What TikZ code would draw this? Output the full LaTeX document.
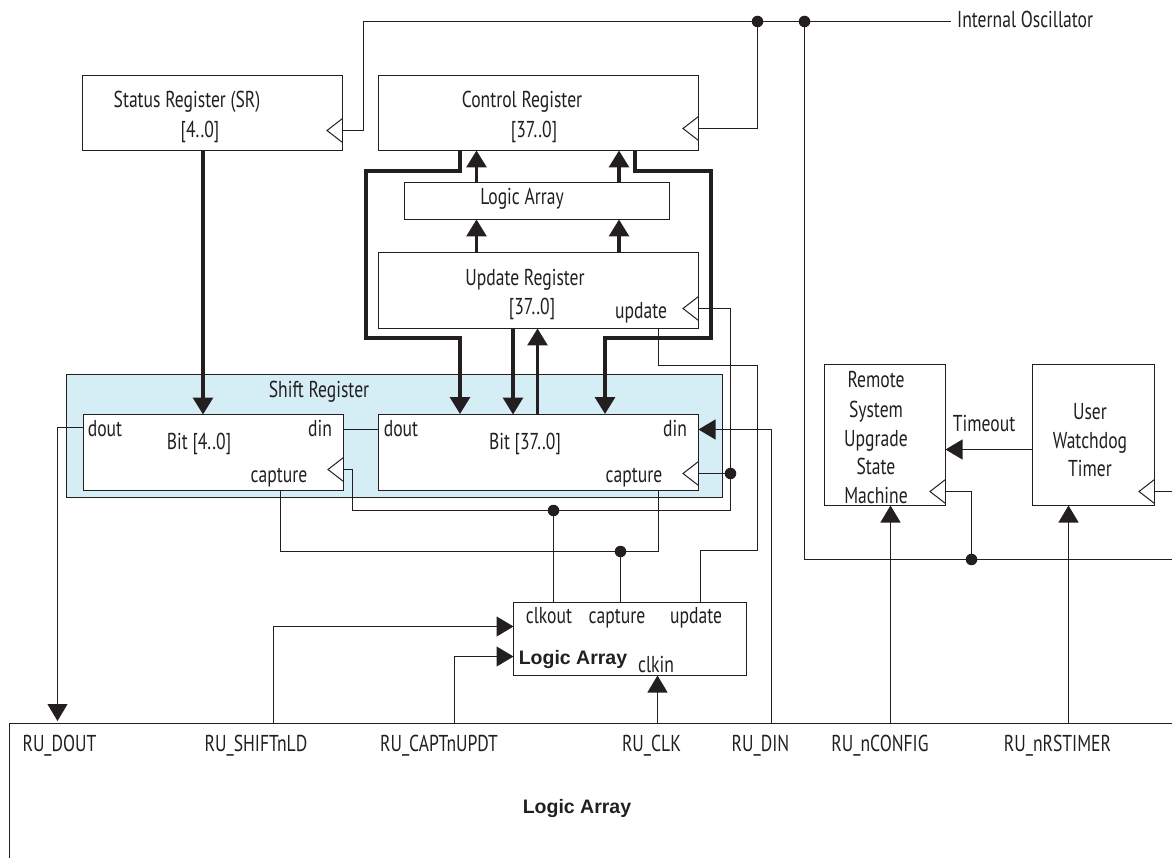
\documentclass[tikz,border=0pt]{standalone}
\usepackage{fontspec}
\usepackage{xcolor}
\usepackage{tikz}
\usetikzlibrary{arrows.meta}
\setmainfont[FakeStretch=0.765]{PT Sans}
\newfontfamily\arialbold{Liberation Sans}
\definecolor{inkcol}{HTML}{231F20}
\definecolor{shiftcol}{HTML}{D5EDF5}

\begin{document}
\begin{tikzpicture}[
  x=1pt, y=-1pt,
  font=\fontsize{23}{27}\selectfont,
  text=inkcol,
  >={Triangle[length=17pt,width=20pt]},
  box/.style={
    draw=inkcol,
    fill=white,
    anchor=north west,
    inner sep=0pt,
    outer sep=0pt,
    line width=1pt
  },
  lbl/.style={inner sep=0pt, text height=16pt, text depth=5pt, yshift=-2.5pt},
  boldlbl/.style={inner sep=0pt, yshift=-1.5pt, font=\arialbold\bfseries\fontsize{19.5}{23}\selectfont},
  jdot/.style={circle, fill=inkcol, inner sep=0pt, outer sep=0pt, minimum size=11.5pt},
  wire/.style={draw=inkcol, line width=1.1pt},
  bus/.style={draw=inkcol, line width=3.2pt},
  clockmark/.style={draw=inkcol, line width=1pt}
]
  \useasboundingbox (0,0) rectangle (1172,858);

  % registers
  \node[box, minimum width=656pt, minimum height=123pt, fill=shiftcol] (shiftreg) at (66.5,374) {};
  \node[box, minimum width=260pt, minimum height=75pt] (statusreg) at (82.5,75.5) {};
  \node[box, minimum width=320pt, minimum height=75pt] (ctrlreg) at (378.5,75.5) {};
  \node[box, minimum width=265pt, minimum height=37pt] (logicsmall) at (404.5,182.5) {};
  \node[box, minimum width=320pt, minimum height=76pt] (updreg) at (378.5,252.5) {};
  \node[box, minimum width=260pt, minimum height=76pt] (bitlow) at (83.5,414.5) {};
  \node[box, minimum width=320pt, minimum height=76pt] (bithigh) at (378.5,414.5) {};
  \node[box, minimum width=121pt, minimum height=141pt] (statemach) at (824.5,364.5) {};
  \node[box, minimum width=122pt, minimum height=141pt] (watchdog) at (1032.5,364.5) {};
  \node[box, minimum width=233pt, minimum height=73pt] (logicmid) at (513.5,602.5) {};

  % texts
  \node[lbl] (t1) at (187,100) {Status Register (SR)};
  \node[lbl] (t2) at (200,130) {[4..0]};
  \node[lbl] (t3) at (522,100) {Control Register};
  \node[lbl] (t4) at (534,130) {[37..0]};
  \node[lbl] (t5) at (522,197) {Logic Array};
  \node[lbl] (t6) at (525,278) {Update Register};
  \node[lbl] (t7) at (532,307) {[37..0]};
  \node[lbl] (t8) at (641,311) {update};
  \node[lbl] (t9) at (319,389) {Shift Register};
  \node[lbl] (t10) at (105,428) {dout};
  \node[lbl] (t11) at (199,441) {Bit [4..0]};
  \node[lbl] (t12) at (320,428) {din};
  \node[lbl] (t13) at (279,474) {capture};
  \node[lbl] (t14) at (401,428) {dout};
  \node[lbl] (t15) at (525,441) {Bit [37..0]};
  \node[lbl] (t16) at (675,428) {din};
  \node[lbl] (t17) at (634,474) {capture};
  \node[lbl] (t18) at (549,615) {clkout};
  \node[lbl] (t19) at (617,615) {capture};
  \node[lbl] (t20) at (696,615) {update};
  \node[boldlbl] (t21) at (573,658) {Logic Array};
  \node[lbl] (t22) at (656,664) {clkin};
  \node[lbl] (t23) at (876,379) {Remote};
  \node[lbl] (t24) at (876,409) {System};
  \node[lbl] (t25) at (876,438) {Upgrade};
  \node[lbl] (t26) at (876,466) {State};
  \node[lbl] (t27) at (876,495) {Machine};
  \node[lbl] (t28) at (984,423) {Timeout};
  \node[lbl] (t29) at (1090,411) {User};
  \node[lbl] (t30) at (1090,440) {Watchdog};
  \node[lbl] (t31) at (1090,468) {Timer};
  \node[lbl, anchor=west] (oscname) at (957,20) {Internal Oscillator};
  \node[lbl] (t32) at (59.5,743) {RU\_DOUT};
  \node[lbl] (t33) at (256,743) {RU\_SHIFTnLD};
  \node[lbl] (t34) at (439,743) {RU\_CAPTnUPDT};
  \node[lbl] (t35) at (651.5,743) {RU\_CLK};
  \node[lbl] (t36) at (760.5,743) {RU\_DIN};
  \node[lbl] (t37) at (880,743) {RU\_nCONFIG};
  \node[lbl] (t38) at (1057.5,743) {RU\_nRSTIMER};
  \node[boldlbl] (t39) at (577,807) {Logic Array};

  % connection points
  \coordinate (lowleft) at (9.5,858);
  \coordinate (lowright) at (1172,723.5);
  \coordinate (srclk) at (342.5,130.5);
  \coordinate (crclk) at (698.5,128.5);
  \coordinate (urclk) at (698.5,308.5);
  \coordinate (lowclk) at (343.5,469.5);
  \coordinate (highclk) at (698.5,473.5);
  \coordinate (smclk) at (945.5,491.5);
  \coordinate (wdclk) at (1154.5,491.5);
  \coordinate (srturn) at (363.5,21.5);
  \coordinate (oscend) at (950.5,21.5);
  \coordinate (sysend) at (1172,559.5);
  \coordinate (wdend) at (1172,491.5);
  \coordinate (clkse) at (730.5,510.5);
  \coordinate (clksw) at (352.5,510.5);
  \coordinate (lowcap) at (280.5,490.5);
  \coordinate (highcap) at (658.5,490.5);
  \coordinate (capsw) at (280.5,551.5);
  \coordinate (urout) at (658.5,328.5);
  \coordinate (updne) at (757.5,365.5);
  \coordinate (updse) at (757.5,550.5);
  \coordinate (updla) at (700.5,602.5);
  \coordinate (highdin) at (698.5,429.5);
  \coordinate (lowdin) at (343.5,429.5);
  \coordinate (highdout) at (378.5,429.5);
  \coordinate (lowdout) at (83.5,427.5);
  \coordinate (rudout) at (57.5,721);
  \coordinate (rushift) at (273.5,723.5);
  \coordinate (rucapt) at (454.5,723.5);
  \coordinate (ruclk) at (657.5,723.5);
  \coordinate (rudin) at (771.5,723.5);
  \coordinate (runcfg) at (890.5,723.5);
  \coordinate (rurst) at (1068.5,723.5);
  \coordinate (shiftin) at (513.5,626.5);
  \coordinate (captin) at (513.5,656.5);
  \coordinate (ctrlleft) at (460,150);
  \coordinate (ctrlright) at (635,150);
  \coordinate (leftnw) at (366,171);
  \coordinate (leftsw) at (366,338);
  \coordinate (rightne) at (711,171);
  \coordinate (rightse) at (711,338);
  \coordinate (bitleft) at (460,414);
  \coordinate (bitright) at (605,414);
  \coordinate (busdown) at (513,328);
  \coordinate (busup) at (537.5,414);
  \coordinate (upa) at (476.5,252);
  \coordinate (upb) at (619,252);

  % junctions
  \node[jdot] (jctrl) at (757.5,21.5) {};
  \node[jdot] (josc) at (804.5,21.5) {};
  \node[jdot] (jstate) at (971.5,559.5) {};
  \node[jdot] (jclk) at (730.5,473.5) {};
  \node[jdot] (jclkout) at (553.5,510.5) {};
  \node[jdot] (jcapt) at (620.5,551.5) {};

  % thin wires
  \draw[wire] (lowleft) |- (lowright);
  \draw[wire] (srclk) -| (srturn) -- (oscend);
  \draw[wire] (jctrl.center) |- (crclk);
  \draw[wire] (josc.center) |- (sysend);
  \draw[wire] (jstate.center) |- (smclk);
  \draw[wire] (wdclk) -- (wdend);
  \draw[wire] (urclk) -| (clkse) -- (clksw) |- (lowclk);
  \draw[wire] (highclk) -- (jclk.center);
  \draw[wire] (jclkout.center) -- (jclkout.center |- logicmid.north);
  \draw[wire] (highcap) |- (capsw) -- (lowcap);
  \draw[wire] (jcapt.center) -- (jcapt.center |- logicmid.north);
  \draw[wire] (urout) |- (updne) -- (updse) -| (updla);
  \draw[wire] (lowdin) -- (highdout);
  \draw[wire, ->] (rudin) |- (highdin);
  \draw[wire, ->] (lowdout) -| (rudout);
  \draw[wire, ->] (rushift) |- (shiftin);
  \draw[wire, ->] (rucapt) |- (captin);
  \draw[wire, ->] (ruclk) -- (ruclk |- logicmid.south);
  \draw[wire, ->] (runcfg) -- (runcfg |- statemach.south);
  \draw[wire, ->] (rurst) -- (rurst |- watchdog.south);
  \draw[wire, ->] (watchdog.west |- 0,449.5) -- (statemach.east |- 0,449.5);

  % buses
  \draw[bus, ->] (statusreg.south -| 203,0) -- (bitlow.north -| 203,0);
  \draw[bus, ->] (ctrlleft) |- (leftnw) -- (leftsw) -| (bitleft);
  \draw[bus, ->] (ctrlright) |- (rightne) -- (rightse) -| (bitright);
  \draw[bus, ->] (busdown) -- (busdown |- bithigh.north);
  \draw[bus, ->] (busup) -- (busup |- updreg.south);
  \draw[bus, ->] (upa) -- (upa |- logicsmall.south);
  \draw[bus, ->] (upb) -- (upb |- logicsmall.south);
  \draw[bus, ->] (upa |- logicsmall.north) -- (upa |- ctrlreg.south);
  \draw[bus, ->] (upb |- logicsmall.north) -- (upb |- ctrlreg.south);

  % clock inputs
  \foreach \clk in {srclk,crclk,urclk,lowclk,highclk,smclk,wdclk}
    \draw[clockmark] ([yshift=12pt]\clk) -- ([xshift=-15.5pt]\clk) -- ([yshift=-12pt]\clk);
\end{tikzpicture}
\end{document}
